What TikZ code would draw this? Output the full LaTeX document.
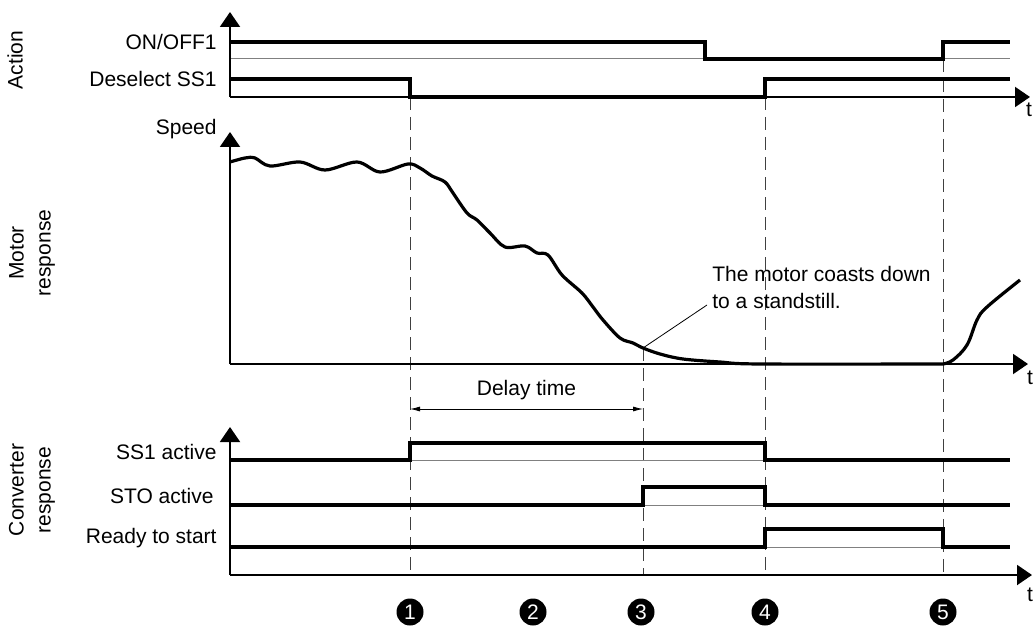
\documentclass[tikz,border=0pt]{standalone}
\usepackage{fontspec}
\setmainfont{Liberation Sans}
\usetikzlibrary{arrows.meta,positioning}

\begin{document}
\begin{tikzpicture}[x=0.5pt, y=-0.5pt,
  every node/.style={font=\fontsize{10.5}{13.5}\selectfont},
  axis/.style={line width=1pt, -{Triangle[length=7.5pt,width=10pt]}},
  sig/.style={line width=1.6pt, line join=miter},
  base/.style={gray, line width=0.5pt},
  tline/.style={black!75, line width=0.5pt, dash pattern=on 6.5pt off 3.5pt},
  lbl/.style={anchor=east, inner sep=0pt},
  sect/.style={rotate=90, align=center, inner sep=0pt},
  num/.style={circle, fill=black, text=white, inner sep=0pt, minimum size=13.5pt,
    font=\fontsize{10.5}{12}\selectfont}]
  \useasboundingbox (0,0) rectangle (1033,626);

  % section titles
  \node[sect] (act) at (15,60) {Action};
  \node[sect] (mot) at (32,253) {Motor\\response};
  \node[sect] (conv) at (32,490) {Converter\\response};

  % signal names
  \node[lbl] (onoff) at (217,42) {ON/OFF1};
  \node[lbl] (desel) at (217,79) {Deselect SS1};
  \node[lbl] (speed) at (217,129) {Speed};
  \node[lbl] (ssact) at (217,452) {SS1 active};
  \node[lbl] (stoact) at (214,496) {STO active};
  \node[lbl] (ready) at (217,538) {Ready to start};

  % time markers
  \draw[tline] (410,97) -- (410,575);
  \draw[tline] (643,348) -- (643,575);
  \draw[tline] (765,97) -- (765,575);
  \draw[tline] (943,59) -- (943,575);

  % action
  \draw[base] (230,59) -- (1010,59);
  \draw[axis] (230,97) -- (230,12);
  \draw[axis] (230,97) -- (1030,97);
  \node (t1) at (1029,110) {t};
  \draw[sig] (230,42) -- (705,42) -- (705,59) -- (943,59) -- (943,42) -- (1010,42);
  \draw[sig] (230,79) -- (410,79) -- (410,97) -- (765,97) -- (765,79) -- (1010,79);

  % motor response
  \draw[axis] (230,364) -- (230,132);
  \draw[axis] (230,364) -- (1028,364);
  \node (t2) at (1030,378) {t};
  \draw[sig, line join=round] plot[smooth, tension=0.55] coordinates {
    (230,162) (245,158) (255,158) (270,166) (300,162) (325,170) (357,162)
    (380,172) (408,164) (420,168) (432,176) (445,182) (453,193) (467,213)
    (477,220) (490,233) (505,247) (525,246) (537,253) (548,255) (562,275)
    (582,293) (593,307) (603,320) (620,338) (633,343) (643,348) (660,354)
    (683,359) (720,362) (760,364) (943,364)}
    plot[smooth, tension=0.6] coordinates {
    (943,364) (953,360) (967,345) (977,320) (987,307) (1020,280)};
  \coordinate (stop) at (643,348);
  \node[anchor=north west, align=left, inner sep=0pt] (coast) at (712,266)
    {The motor coasts down\\to a standstill.};
  \coordinate (coastend) at (707,305);
  \draw[line width=0.4pt] (stop) -- (coastend);

  % delay time
  \coordinate (d1) at (410,409);
  \coordinate (d3) at (643,409);
  \draw[line width=0.4pt, {Latex[length=5pt,width=2.5pt]}-{Latex[length=5pt,width=2.5pt]}]
    (d1) -- node[above=1pt] (delay) {Delay time} (d3);

  % converter response
  \foreach \y in {460,505,547} \draw[base] (230,\y) -- (1010,\y);
  \draw[axis] (230,575) -- (230,427);
  \draw[axis] (230,575) -- (1032,575);
  \node (t3) at (1030,595) {t};
  \draw[sig] (230,460) -- (410,460) -- (410,443) -- (765,443) -- (765,460) -- (1010,460);
  \draw[sig] (230,505) -- (643,505) -- (643,487) -- (765,487) -- (765,505) -- (1010,505);
  \draw[sig] (230,547) -- (765,547) -- (765,529) -- (943,529) -- (943,547) -- (1010,547);

  % step numbers
  \foreach \x/\n in {410/1,533/2,641/3,765/4,943/5}
    \node[num] (n\n) at (\x,612) {\n};
\end{tikzpicture}
\end{document}
